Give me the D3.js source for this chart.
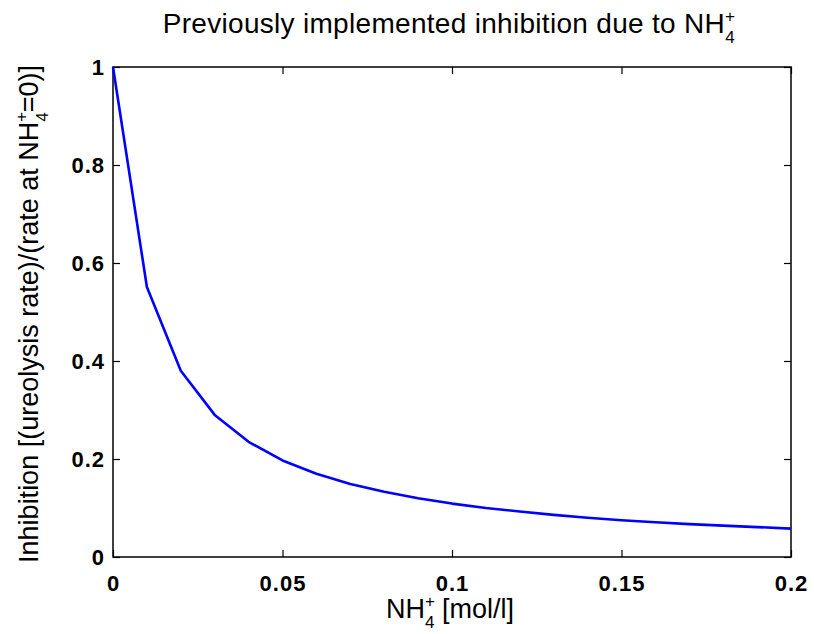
<!DOCTYPE html>
<html><head><meta charset="utf-8">
<script src="https://cdn.jsdelivr.net/npm/d3@7"></script>
<style>body{margin:0;background:#fff}text{font-family:"Liberation Sans",Arial,sans-serif}</style>
</head><body><svg id="c" width="814" height="634"></svg>
<script>
const xValues = [0,0.01,0.02,0.03,0.04,0.05,0.06,0.07,0.08,0.09,0.10,0.11,0.12,0.13,0.14,0.15,0.16,0.17,0.18,0.19,0.20];
const yValues = [1,0.551,0.38,0.29,0.235,0.197,0.17,0.149,0.133,0.12,0.109,0.10,0.093,0.086,0.080,0.075,0.071,0.067,0.064,0.061,0.058];
const xTicks = [0,0.05,0.1,0.15,0.2];
const xTickLabels = ["0","0.05","0.1","0.15","0.2"];
const yTicks = [0,0.2,0.4,0.6,0.8,1];
const yTickLabels = ["0","0.2","0.4","0.6","0.8","1"];

(function(){
const svg = d3.select("#c");
const L=113,R=791,T=67,B=557;
const x = d3.scaleLinear().domain([0,0.2]).range([L,R]);
const y = d3.scaleLinear().domain([0,1]).range([B,T]);

svg.append("rect").attr("x",L).attr("y",T).attr("width",R-L).attr("height",B-T)
  .attr("fill","none").attr("stroke","#000").attr("stroke-width",1.5);

const tl=7;
const axB = d3.axisBottom(x).tickValues(xTicks).tickFormat((d,i)=>xTickLabels[i]).tickSizeInner(-tl).tickSizeOuter(0).tickPadding(0);
const gb = svg.append("g").attr("transform",`translate(0,${B})`).call(axB);
const axT = d3.axisTop(x).tickValues(xTicks).tickFormat("").tickSizeInner(-tl).tickSizeOuter(0);
const gt = svg.append("g").attr("transform",`translate(0,${T})`).call(axT);
const axL = d3.axisLeft(y).tickValues(yTicks).tickFormat((d,i)=>yTickLabels[i]).tickSizeInner(-tl).tickSizeOuter(0).tickPadding(8);
const gl = svg.append("g").attr("transform",`translate(${L},0)`).call(axL);
const axR = d3.axisRight(y).tickValues(yTicks).tickFormat("").tickSizeInner(-tl).tickSizeOuter(0);
const gr = svg.append("g").attr("transform",`translate(${R},0)`).call(axR);
[gb,gt,gl,gr].forEach(g=>{
  g.select(".domain").remove();
  g.selectAll("line").attr("stroke","#000").attr("stroke-width",1.2);
  g.selectAll("text").attr("fill","#000").style("font-size","22px").style("font-weight","bold").style("letter-spacing","1px").style("font-family","'Liberation Sans',Arial,sans-serif");
});
gb.selectAll("text").attr("y",34).attr("dy",0);
gl.selectAll("text").attr("dy","0.36em");

const line = d3.line().x((d,i)=>x(xValues[i])).y(d=>y(d));
svg.append("path").datum(yValues).attr("d",line).attr("fill","none")
  .attr("stroke","#0000ff").attr("stroke-width",2.6).attr("stroke-linejoin","round");

function sub(t, pre, post){
  t.append("tspan").text(pre);
  t.append("tspan").attr("dy",-11).style("font-size","17px").text("+");
  t.append("tspan").attr("dx",-10).attr("dy",21).style("font-size","17px").text("4");
  if(post) t.append("tspan").attr("dy",-10).text(post);
}

const title = svg.append("text").attr("x",449).attr("y",33).attr("text-anchor","middle")
  .style("font-size","28px").style("letter-spacing","0.3px");
sub(title,"Previously implemented inhibition due to NH",null);

const xl = svg.append("text").attr("x",450).attr("y",618).attr("text-anchor","middle").style("font-size","27px");
sub(xl,"NH"," [mol/l]");

const yl = svg.append("text").attr("transform","translate(38,314) rotate(-90)").attr("text-anchor","middle").style("font-size","27px");
sub(yl,"Inhibition [(ureolysis rate)/(rate at NH","=0)]");
})();
</script></body></html>
